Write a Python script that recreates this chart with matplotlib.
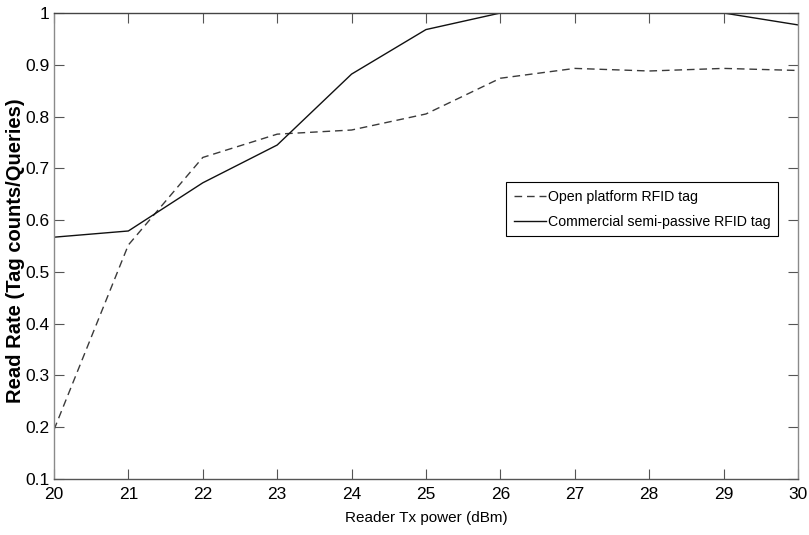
import matplotlib
matplotlib.use('Agg')
import matplotlib.pyplot as plt

# Datos
potencia = [20, 21, 22, 23, 24, 25, 26, 27, 28, 29, 30]
open_platform = [0.195, 0.552, 0.721, 0.766, 0.774, 0.805, 0.874, 0.893, 0.888, 0.893, 0.889]
comercial = [0.567, 0.579, 0.672, 0.745, 0.882, 0.968, 1.0, 1.0, 1.0, 1.0, 0.977]
yticks = [0.1, 0.2, 0.3, 0.4, 0.5, 0.6, 0.7, 0.8, 0.9, 1]
ytick_labels = ['0.1', '0.2', '0.3', '0.4', '0.5', '0.6', '0.7', '0.8', '0.9', '1']

fuente = ['Liberation Sans', 'DejaVu Sans']

fig = plt.figure(figsize=(8.09, 5.35), dpi=100)
ax = fig.add_axes([0.0667, 0.1047, 0.9197, 0.871])

ax.plot(potencia, open_platform, color='#3a3a3a', linestyle=(0, (5.5, 3.5)), linewidth=1.0,
        label='Open platform RFID tag')
ax.plot(potencia, comercial, color='#111111', linestyle='-', linewidth=1.0,
        label='Commercial semi-passive RFID tag')

ax.set_xlim(20, 30)
ax.set_ylim(0.1, 1.0)
ax.set_xticks(potencia)
ax.set_yticks(yticks)
ax.set_yticklabels(ytick_labels)
ax.tick_params(direction='in', length=7, width=0.8, top=True, right=True,
               labelsize=12.5, colors='#555555', labelcolor='black')
ax.tick_params(axis='x', pad=6)
ax.tick_params(axis='y', pad=3)
for lab in ax.get_xticklabels() + ax.get_yticklabels():
    lab.set_family(fuente)
ax.spines['left'].set_color('#8a8a8a')
ax.spines['right'].set_color('#8a8a8a')
ax.spines['top'].set_color('#444444')
ax.spines['bottom'].set_color('#555555')
for s in ax.spines.values():
    s.set_linewidth(1.0)

# Etiquetas
ax.set_xlabel('Reader Tx power (dBm)', fontsize=11, family=fuente, labelpad=6)
ax.set_ylabel('Read Rate (Tag counts/Queries)', fontsize=14.5, fontweight='bold',
              family=fuente)
ax.yaxis.set_label_coords(-0.039, 0.49)

leg = ax.legend(loc='upper left', bbox_to_anchor=(0.6075, 0.637), fancybox=False,
                framealpha=1, edgecolor='black', handlelength=2.3, handletextpad=0.1,
                borderpad=0.55, labelspacing=0.75, borderaxespad=0,
                prop={'family': fuente, 'size': 10.2})
leg.get_frame().set_linewidth(0.8)

fig.savefig('out.png', dpi=100)
